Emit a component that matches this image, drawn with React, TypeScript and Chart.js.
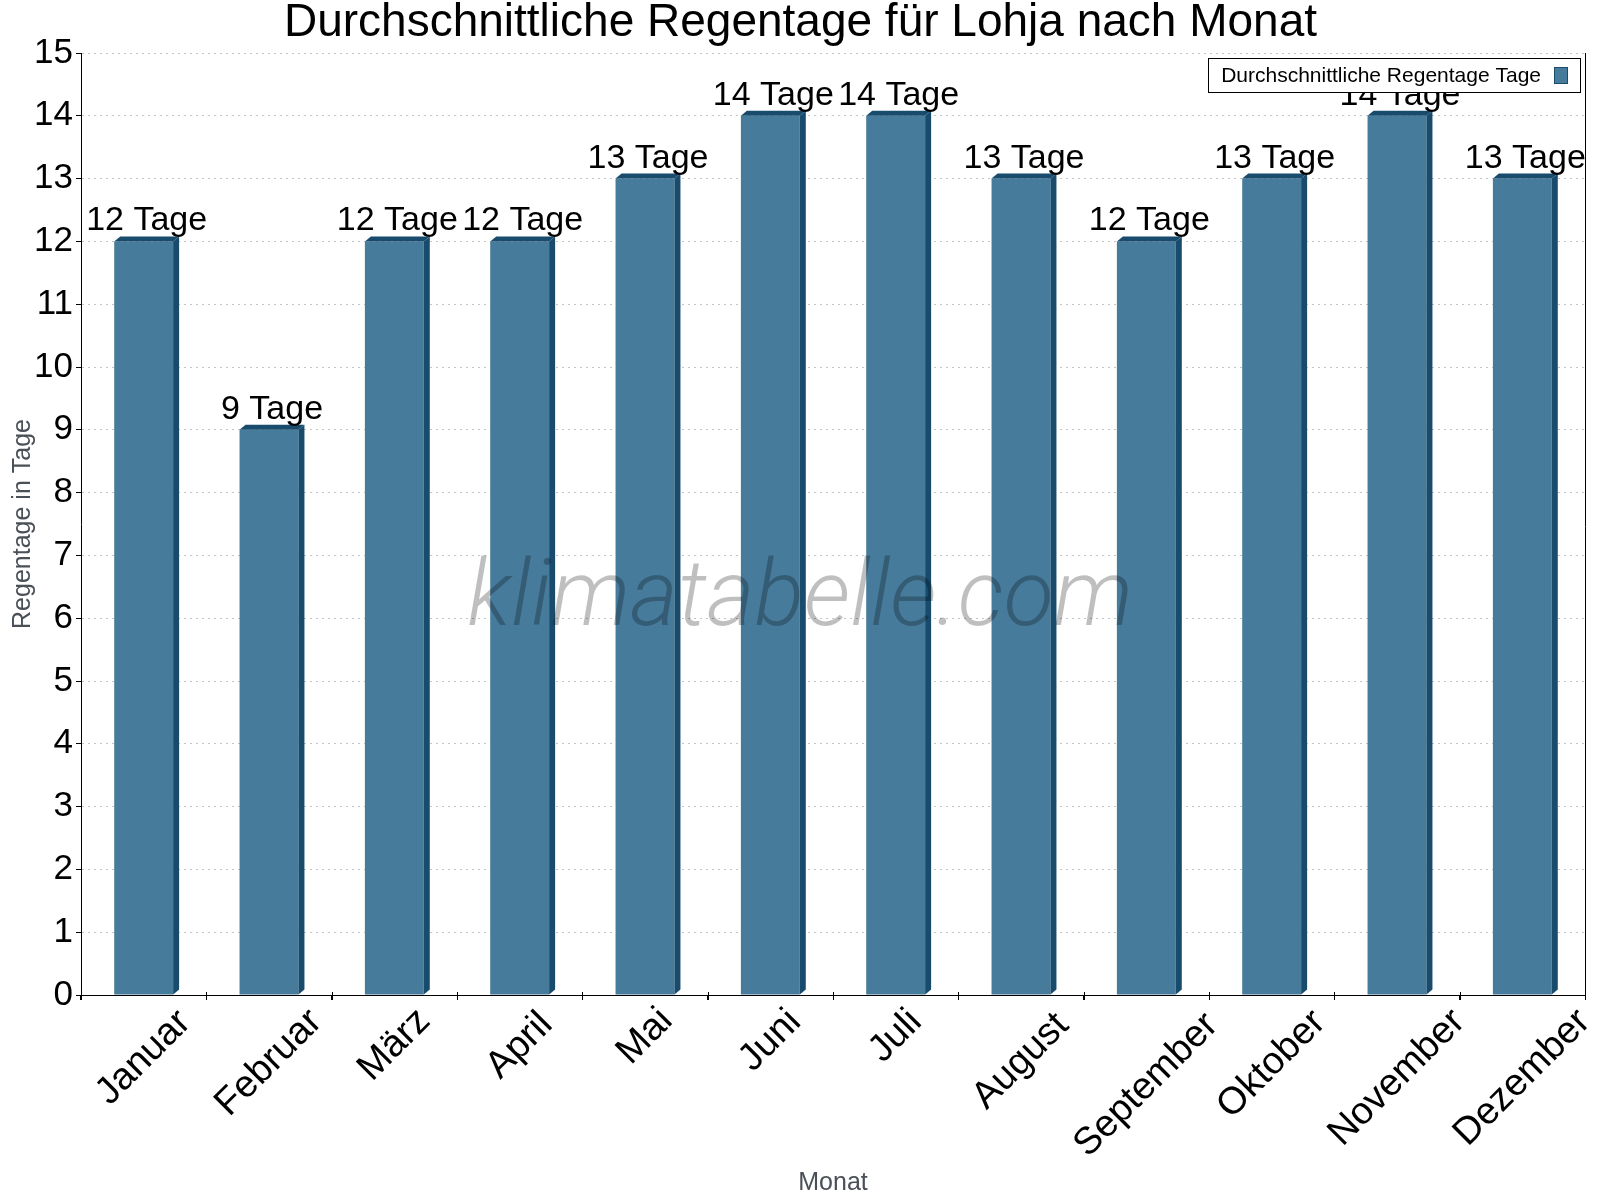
import React, { useEffect, useRef } from "react";
import { Chart, registerables } from "chart.js";

Chart.register(...registerables);

const months = [
  "Januar", "Februar", "März", "April", "Mai", "Juni",
  "Juli", "August", "September", "Oktober", "November", "Dezember",
];
const rainDays = [12, 9, 12, 12, 13, 14, 14, 13, 12, 13, 14, 13];
const seriesLabel = "Durchschnittliche Regentage Tage";
const unit = "Tage";
const yTicks = [0, 15];

const FONT = "'Liberation Sans', Arial, Helvetica, sans-serif";
const FRONT = "#467b9c";
const DARK = "#184b6c";
const DEPTH_X = 6;
const DEPTH_Y = 5;

// Side and top faces give each bar its shallow 3D look.
const bar3d = {
  id: "bar3d",
  afterDatasetsDraw(chart: any) {
    const ctx = chart.ctx;
    const meta = chart.getDatasetMeta(0);
    ctx.save();
    ctx.fillStyle = DARK;
    meta.data.forEach((el: any) => {
      const { x, y, base, width } = el.getProps(["x", "y", "base", "width"], true);
      const l = x - width / 2;
      const r = x + width / 2;
      ctx.beginPath();
      ctx.moveTo(r, y);
      ctx.lineTo(r + DEPTH_X, y - DEPTH_Y);
      ctx.lineTo(r + DEPTH_X, base - DEPTH_Y);
      ctx.lineTo(r, base);
      ctx.closePath();
      ctx.fill();
      ctx.beginPath();
      ctx.moveTo(l, y);
      ctx.lineTo(l + DEPTH_X, y - DEPTH_Y);
      ctx.lineTo(r + DEPTH_X, y - DEPTH_Y);
      ctx.lineTo(r, y);
      ctx.closePath();
      ctx.fill();
    });
    // value labels
    ctx.fillStyle = "#000";
    ctx.font = `34px ${FONT}`;
    ctx.textAlign = "center";
    ctx.textBaseline = "alphabetic";
    meta.data.forEach((el: any, i: number) => {
      const { x, y } = el.getProps(["x", "y"], true);
      ctx.fillText(`${rainDays[i]} ${unit}`, x + DEPTH_X / 2, y - 11);
    });
    ctx.restore();
  },
};

// Rotated month names, centred under each bar.
const monthLabels = {
  id: "monthLabels",
  afterDraw(chart: any) {
    const ctx = chart.ctx;
    const xs = chart.scales.x;
    const { bottom } = chart.chartArea;
    ctx.save();
    // small tick marks crossing the axis line
    ctx.strokeStyle = "#000";
    ctx.lineWidth = 1;
    for (let i = 0; i <= months.length; i++) {
      const px = Math.round(xs.getPixelForValue(i - 0.5)) + 0.5;
      ctx.beginPath();
      ctx.moveTo(px, bottom - 3);
      ctx.lineTo(px, bottom + 5);
      ctx.stroke();
    }
    ctx.font = `38px ${FONT}`;
    ctx.fillStyle = "#000";
    ctx.textAlign = "center";
    ctx.textBaseline = "middle";
    const top = bottom + 12;
    months.forEach((m, i) => {
      const cx = xs.getPixelForValue(i);
      const tm = ctx.measureText(m);
      const w = tm.actualBoundingBoxLeft + tm.actualBoundingBoxRight;
      const h = tm.actualBoundingBoxAscent + tm.actualBoundingBoxDescent;
      const half = (w + h) / (2 * Math.SQRT2);
      ctx.save();
      ctx.translate(cx, top + half);
      ctx.rotate(-Math.PI / 4);
      ctx.fillText(m, 0, 0);
      ctx.restore();
    });
    ctx.restore();
  },
};

// Right frame line, watermark and boxed legend.
const decorations = {
  id: "decorations",
  afterDraw(chart: any) {
    const ctx = chart.ctx;
    const { right, top, bottom } = chart.chartArea;
    ctx.save();
    ctx.strokeStyle = "#000";
    ctx.lineWidth = 1;
    ctx.beginPath();
    ctx.moveTo(Math.round(right) + 0.5, top);
    ctx.lineTo(Math.round(right) + 0.5, bottom + 5);
    ctx.stroke();

    ctx.font = `italic 300 92px Roboto, ${FONT}`;
    ctx.fillStyle = "rgba(0,0,0,0.25)";
    ctx.textAlign = "center";
    ctx.textBaseline = "alphabetic";
    ctx.fillText("klimatabelle.com", chart.width / 2, 625);

    const ds = chart.data.datasets[0];
    ctx.font = `21px ${FONT}`;
    const tw = ctx.measureText(ds.label).width;
    const bw = 13 + tw + 13 + 14 + 12;
    const bh = 34;
    const bx = right - 5 - bw;
    const by = top + 5;
    ctx.fillStyle = "#fff";
    ctx.fillRect(bx, by, bw, bh);
    ctx.strokeStyle = "#000";
    ctx.strokeRect(Math.round(bx) + 0.5, Math.round(by) + 0.5, Math.round(bw), bh);
    ctx.fillStyle = "#000";
    ctx.textAlign = "left";
    ctx.textBaseline = "middle";
    ctx.fillText(ds.label, bx + 13, by + bh / 2 + 1);
    const sx = bx + 13 + tw + 13;
    ctx.fillStyle = ds.backgroundColor;
    ctx.fillRect(sx, by + 9, 14, 17);
    ctx.strokeStyle = DARK;
    ctx.strokeRect(Math.round(sx) + 0.5, Math.round(by + 9) + 0.5, 13, 16);
    ctx.restore();
  },
};

export default function App() {
  const canvasRef = useRef<HTMLCanvasElement | null>(null);

  useEffect(() => {
    if (!canvasRef.current) return;
    const chart = new Chart(canvasRef.current, {
      type: "bar",
      data: {
        labels: months,
        datasets: [
          {
            label: seriesLabel,
            data: rainDays,
            backgroundColor: FRONT,
            borderWidth: 0,
            barPercentage: 0.47,
            categoryPercentage: 1,
          },
        ],
      },
      options: {
        responsive: false,
        animation: false,
        devicePixelRatio: 1,
        layout: { padding: { left: 16, right: 15, top: 0, bottom: 0 } },
        plugins: {
          legend: { display: false },
          tooltip: { enabled: false },
          title: {
            display: true,
            text: "Durchschnittliche Regentage für Lohja nach Monat",
            color: "#000",
            font: { family: FONT, size: 46, weight: "normal", lineHeight: 1 },
            padding: { top: 0, bottom: 7 },
          },
        },
        scales: {
          x: {
            offset: true,
            grid: {
              offset: true,
              drawOnChartArea: false,
              drawTicks: true,
              tickLength: 5,
              tickColor: "#000",
              color: "#000",
            },
            border: { display: true, color: "#000", width: 1 },
            ticks: { display: false },
            title: {
              display: true,
              text: "Monat",
              color: "#4a5057",
              font: { family: FONT, size: 25 },
              padding: { top: 0, bottom: 2 },
            },
            afterFit: (s: any) => {
              s.height = 205;
            },
          },
          y: {
            min: yTicks[0],
            max: yTicks[1],
            ticks: {
              stepSize: 1,
              color: "#000",
              padding: 3,
              font: { family: FONT, size: 35 },
            },
            grid: {
              color: "#c4c4c4",
              lineWidth: 1,
              tickLength: 5,
              tickColor: "#000",
              tickBorderDash: [],
            },
            border: { display: true, color: "#000", width: 1, dash: [2, 4] },
            title: {
              display: true,
              text: "Regentage in Tage",
              color: "#4a5057",
              font: { family: FONT, size: 25 },
              padding: { top: -8, bottom: 0 },
            },
            afterFit: (s: any) => {
              s.width = 65;
            },
          },
        },
      },
      plugins: [bar3d, monthLabels, decorations],
    });
    return () => chart.destroy();
  }, []);

  return (
    <div style={{ position: "absolute", left: 0, top: 0, width: 1600, height: 1200, background: "#fff" }}>
      <canvas ref={canvasRef} width={1600} height={1200} />
    </div>
  );
}
